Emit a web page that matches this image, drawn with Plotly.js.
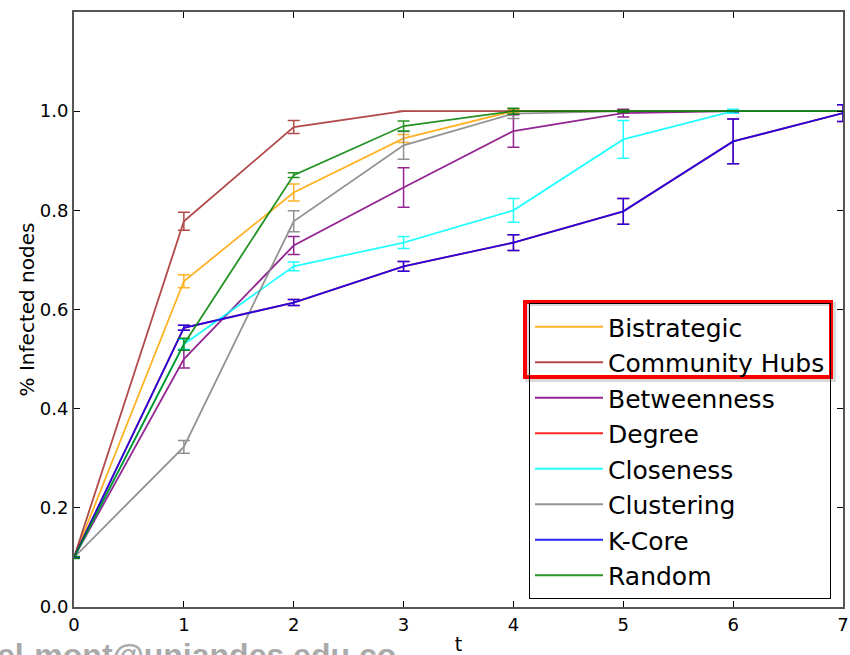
<!DOCTYPE html>
<html>
<head>
<meta charset="utf-8">
<script src="https://cdn.plot.ly/plotly-3.0.1.min.js"></script>
<style>html,body{margin:0;padding:0;background:#fff;}#chart{width:850px;height:655px;}</style>
</head>
<body>
<div id="chart"></div>
<script>
const t = [0, 1, 2, 3, 4, 5, 6, 7];
const seriesNames = ["Bistrategic", "Community Hubs", "Betweenness", "Degree", "Closeness", "Clustering", "K-Core", "Random"];
const bistrategic     = [0.10, 0.657, 0.836, 0.945, 1.000, 1.000, 1.000, 1.000];
const bistrategicErr  = [0.00, 0.013, 0.017, 0.008, 0.003, 0.002, 0.000, 0.000];
const communityHubs    = [0.10, 0.778, 0.968, 1.000, 1.000, 1.000, 1.000, 1.000];
const communityHubsErr = [0.00, 0.018, 0.013, 0.000, 0.000, 0.000, 0.000, 0.000];
const betweenness     = [0.10, 0.500, 0.729, 0.846, 0.960, 0.996, 1.000, 1.000];
const betweennessErr  = [0.00, 0.018, 0.018, 0.040, 0.033, 0.008, 0.002, 0.000];
const degree          = [0.10, 0.563, 0.614, 0.687, 0.735, 0.798, 0.939, 0.996];
const degreeErr       = [0.00, 0.005, 0.006, 0.010, 0.016, 0.026, 0.045, 0.017];
const closeness       = [0.10, 0.530, 0.687, 0.735, 0.800, 0.943, 1.000, 1.000];
const closenessErr    = [0.00, 0.010, 0.009, 0.012, 0.024, 0.038, 0.004, 0.000];
const clustering      = [0.10, 0.323, 0.778, 0.931, 0.995, 1.000, 1.000, 1.000];
const clusteringErr   = [0.00, 0.013, 0.021, 0.028, 0.010, 0.000, 0.000, 0.000];
const kcore           = [0.10, 0.563, 0.614, 0.687, 0.735, 0.798, 0.939, 0.996];
const kcoreErr        = [0.00, 0.005, 0.006, 0.010, 0.016, 0.026, 0.045, 0.017];
const random          = [0.10, 0.530, 0.871, 0.970, 1.000, 1.000, 1.000, 1.000];
const randomErr       = [0.002, 0.012, 0.005, 0.010, 0.006, 0.002, 0.000, 0.000];
const yTickVals = [0, 0.2, 0.4, 0.6, 0.8, 1.0];
const yTickText = ["0.0", "0.2", "0.4", "0.6", "0.8", "1.0"];
const xTickVals = [0, 1, 2, 3, 4, 5, 6, 7];

const values = [bistrategic, communityHubs, betweenness, degree, closeness, clustering, kcore, random];
const errors = [bistrategicErr, communityHubsErr, betweennessErr, degreeErr, closenessErr, clusteringErr, kcoreErr, randomErr];
const colors = ["#ffa500", "#a52a2a", "#800080", "#ff0000", "#00ffff", "#808080", "#0000ff", "#008000"];

const traces = seriesNames.map((name, i) => ({
  type: "scatter",
  mode: "lines",
  name: name,
  x: t,
  y: values[i],
  legendgroup: "g" + i,
  opacity: 0.85,
  line: {color: colors[i], width: 1.8},
  error_y: {type: "data", array: errors[i], visible: true, color: colors[i], thickness: 1.5, width: 6}
}));

const px = (p) => (p - 74) / 769;
const py = (p) => (607 - p) / 595;

const layout = {
  width: 850, height: 655,
  margin: {l: 74, r: 7, t: 12, b: 48},
  paper_bgcolor: "#ffffff",
  plot_bgcolor: "#ffffff",
  font: {family: "DejaVu Sans", size: 18, color: "#000"},
  showlegend: true,
  xaxis: {
    range: [0, 7], tickvals: xTickVals, ticks: "inside", ticklen: 6, tickcolor: "#000",
    showline: true, linecolor: "#555", linewidth: 2, mirror: "ticks", showgrid: false, zeroline: false,
    tickfont: {size: 18},
    title: {text: "t", font: {size: 19}, standoff: 5}
  },
  yaxis: {
    range: [0, 1.2], tickvals: yTickVals, ticktext: yTickText, ticks: "inside", ticklen: 6, tickcolor: "#000",
    showline: true, linecolor: "#555", linewidth: 2, mirror: "ticks", showgrid: false, zeroline: false,
    tickfont: {size: 18},
    title: {text: "% Infected nodes", font: {size: 20}, standoff: 0}
  },
  legend: {
    x: px(529), y: py(303), xanchor: "left", yanchor: "top",
    bgcolor: "rgba(255,255,255,0)", bordercolor: "#000", borderwidth: 1,
    font: {size: 25, family: "DejaVu Sans"},
    itemwidth: 68,
    tracegroupgap: 4, traceorder: "normal"
  },
  shapes: [
    {type: "rect", xref: "paper", yref: "paper", x0: px(527), x1: px(834), y0: py(380), y1: py(304),
     line: {color: "rgba(0,0,0,0.15)", width: 4}},
    {type: "rect", xref: "paper", yref: "paper", x0: px(525), x1: px(831), y0: py(377), y1: py(302),
     line: {color: "#ff0000", width: 4}}
  ],
  annotations: [
    {xref: "paper", yref: "paper", x: px(398), y: py(655), xanchor: "right", yanchor: "middle",
     text: "<b>el-mont@uniandes.edu.co</b>", showarrow: false,
     font: {family: "Liberation Sans", size: 32, color: "#aaaaaa"}}
  ]
};

Plotly.newPlot("chart", traces, layout, {displayModeBar: false, staticPlot: true});
</script>
</body>
</html>
